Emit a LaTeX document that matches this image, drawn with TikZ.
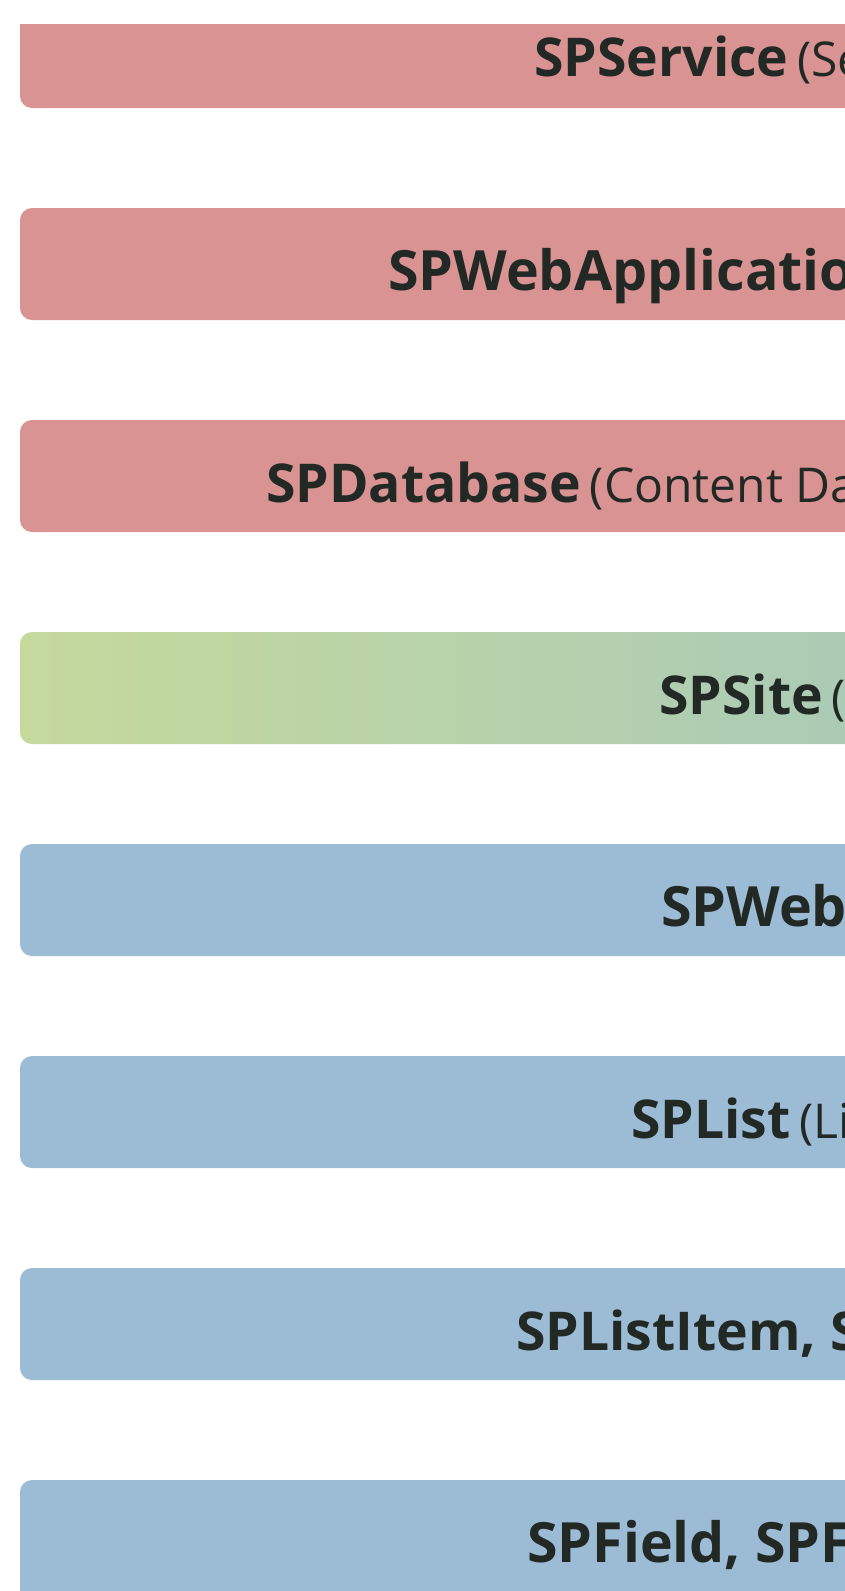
\documentclass[tikz,border=0pt]{standalone}
\usepackage{fontspec}
\setmainfont{Open Sans}
\definecolor{barred}{HTML}{D99393}
\definecolor{barblue}{HTML}{9CBCD6}
\definecolor{greenL}{HTML}{C5D99C}
\definecolor{greenR}{HTML}{AACAB7}
\definecolor{txt}{HTML}{222925}
\newcommand{\lite}[1]{\hspace{-5pt}{\fontsize{48}{52}\selectfont #1}}
\tikzset{
  barshape/.style={rounded corners=12pt},
  lbl/.style={anchor=base west, inner sep=0pt, text=txt, font=\fontsize{53.5}{58}\selectfont},
  lblwide/.style={lbl, font=\fontsize{55.5}{60}\selectfont},
}
\begin{document}
\begin{tikzpicture}[x=1pt,y=-1pt]
\useasboundingbox (0,0) rectangle (845,1591);
\fill[white] (0,0) rectangle (845,1591);
\clip (0,0) rectangle (845,1591);
% bar 1 (top cut)
\begin{scope}
\clip (0,24) rectangle (845,1591);
\fill[barred, barshape] (20,-10) rectangle (900,108);
\end{scope}
\fill[barred, barshape] (20,208) rectangle (900,320);
\fill[barred, barshape] (20,420) rectangle (900,532);
\shade[left color=greenL, right color=greenR, barshape] (20,632) rectangle (900,744);
\fill[barblue, barshape] (20,844) rectangle (900,956);
\fill[barblue, barshape] (20,1056) rectangle (900,1168);
\fill[barblue, barshape] (20,1268) rectangle (900,1380);
\fill[barblue, barshape] (20,1480) rectangle (900,1620);
% labels
\node[lbl] (t1) at (534,76) {\textbf{SPService} \lite{(Se}};
\node[lblwide] (t2) at (388,290) {\textbf{SPWebApplicatio}};
\node[lbl] (t3) at (266,502) {\textbf{SPDatabase} \lite{(Content Da}};
\node[lbl] (t4) at (659,714) {\textbf{SPSite} \lite{(}};
\node[lblwide] (t5) at (661,926) {\textbf{SPWeb}};
\node[lbl] (t6) at (631,1138) {\textbf{SPList} \lite{(Li}};
\node[lbl] (t7) at (516,1350) {\textbf{SPListItem, S}};
\node[lblwide] (t8) at (527,1562) {\textbf{SPField, SPF}};
\end{tikzpicture}
\end{document}
